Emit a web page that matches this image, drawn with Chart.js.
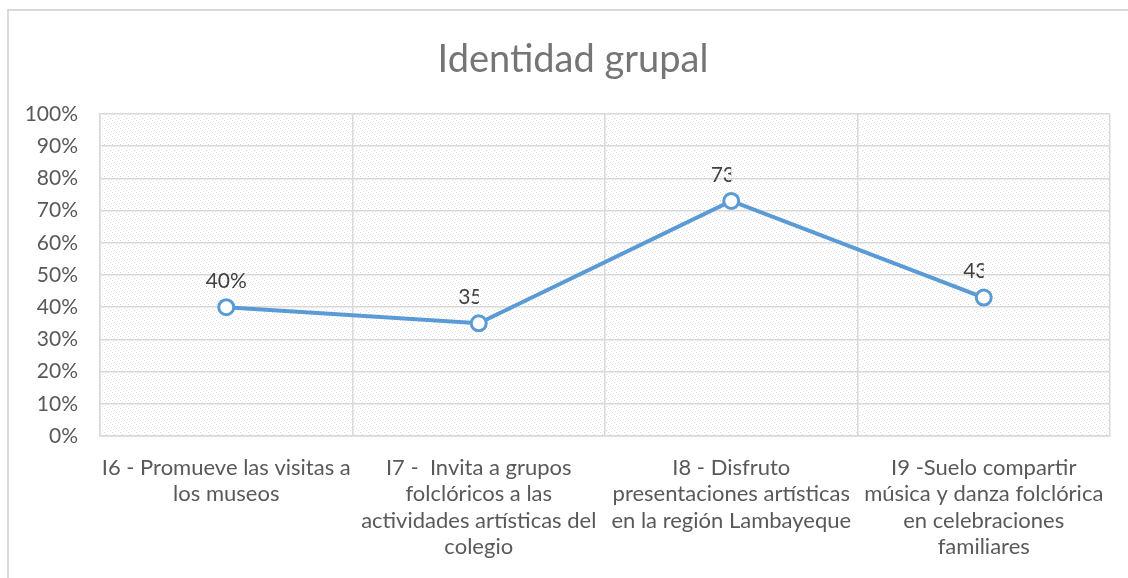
<!DOCTYPE html>
<html>
<head>
<meta charset="utf-8">
<script src="https://cdn.jsdelivr.net/npm/chart.js@4/dist/chart.umd.min.js"></script>
<style>
  html, body { margin: 0; padding: 0; background: #fff; overflow: hidden; }
  #frame { position: absolute; left: 7px; top: 9px; width: 1300px; height: 800px; border: 2px solid #d9d9d9; }
  #wrap { position: absolute; left: 0; top: 0; width: 1128px; height: 578px; }
</style>
</head>
<body>
<div id="frame"></div>
<div id="wrap"><canvas id="c" width="1128" height="578"></canvas></div>
<script>
const chartTitle = "Identidad grupal";
const categories = [
  ["I6 - Promueve las visitas a", "los museos"],
  ["I7 -  Invita a grupos", "folclóricos a las", "actividades artísticas del", "colegio"],
  ["I8 - Disfruto", "presentaciones artísticas", "en la región Lambayeque"],
  ["I9 -Suelo compartir", "música y danza folclórica", "en celebraciones", "familiares"]
];
const values = [40, 35, 73, 43];
const yTicks = [0, 10, 20, 30, 40, 50, 60, 70, 80, 90, 100];

const FONT = "Lato, 'Open Sans', sans-serif";
const GRID = "#d9d9d9";
const BLUE = "#5b9bd5";

// light diagonal dotted fill of the plot area
function makePattern(ctx) {
  const p = document.createElement("canvas");
  p.width = 8; p.height = 8;
  const g = p.getContext("2d");
  g.fillStyle = "#fff";
  g.fillRect(0, 0, 8, 8);
  g.fillStyle = "#dcdcdc";
  for (let i = 0; i < 8; i += 2) g.fillRect(i, i, 1, 1);
  g.fillStyle = "#eeeeee";
  for (let i = 1; i < 8; i += 2) g.fillRect((i + 4) % 8, i, 1, 1);
  return ctx.createPattern(p, "repeat");
}

const plotBg = {
  id: "plotBg",
  beforeDraw(chart) {
    const { ctx, chartArea: a } = chart;
    ctx.save();
    ctx.fillStyle = makePattern(ctx);
    ctx.fillRect(a.left, a.top, a.right - a.left, a.bottom - a.top);
    // title, centred on the outer chart frame
    ctx.font = "38px " + FONT;
    ctx.fillStyle = "#757575";
    ctx.textAlign = "center";
    ctx.textBaseline = "middle";
    ctx.fillText(chartTitle, 573, 60);
    ctx.restore();
  }
};

const pointLabels = {
  id: "pointLabels",
  afterDatasetsDraw(chart) {
    const { ctx } = chart;
    const meta = chart.getDatasetMeta(0);
    ctx.save();
    ctx.font = "21px " + FONT;
    ctx.fillStyle = "#404040";
    ctx.textAlign = "center";
    ctx.textBaseline = "middle";
    meta.data.forEach((pt, i) => {
      ctx.save();
      if (i > 0) {
        ctx.beginPath();
        ctx.rect(0, 0, pt.x, chart.height);
        ctx.clip();
      }
      ctx.fillText(values[i] + "%", pt.x, pt.y - 26);
      ctx.restore();
    });
    ctx.restore();
  }
};

new Chart(document.getElementById("c"), {
  type: "line",
  data: {
    labels: categories,
    datasets: [{
      data: values,
      borderColor: BLUE,
      borderWidth: 4,
      pointRadius: 7.5,
      pointHoverRadius: 7.5,
      pointBackgroundColor: "#fff",
      pointBorderColor: BLUE,
      pointBorderWidth: 3,
      tension: 0,
      fill: false
    }]
  },
  options: {
    responsive: false,
    animation: false,
    layout: { padding: { left: 0, right: 18, top: 114, bottom: 0 } },
    plugins: {
      legend: { display: false },
      tooltip: { enabled: false },
      title: { display: false }
    },
    scales: {
      x: {
        offset: true,
        grid: { offset: true, color: GRID, lineWidth: 1.5, drawTicks: false },
        border: { color: GRID, width: 1.5 },
        ticks: {
          color: "#595959",
          font: { family: FONT, size: 22, lineHeight: 1.19 },
          padding: 19,
          maxRotation: 0,
          autoSkip: false
        },
        afterFit(s) { s.height = 142; }
      },
      y: {
        min: 0, max: 100,
        afterBuildTicks(s) { s.ticks = yTicks.map(v => ({ value: v })); },
        grid: { color: GRID, lineWidth: 1.5, drawTicks: false },
        border: { color: GRID, width: 1.5 },
        ticks: {
          color: "#595959",
          font: { family: FONT, size: 21 },
          padding: 22,
          callback: v => v + "%"
        },
        afterFit(s) { s.width = 100; }
      }
    }
  },
  plugins: [plotBg, pointLabels]
});
</script>
</body>
</html>
